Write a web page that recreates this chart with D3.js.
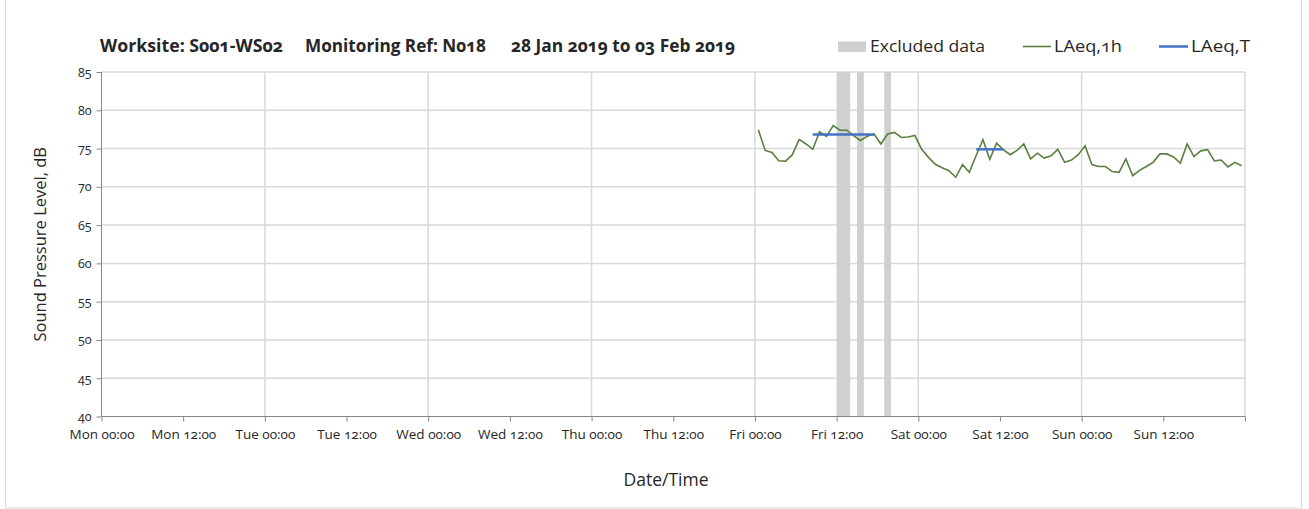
<!DOCTYPE html>
<html><head><meta charset="utf-8">
<script src="https://cdn.jsdelivr.net/npm/d3@7"></script>
<style>
body{margin:0;background:#fff;}
text{font-family:"Open Sans","Noto Sans",sans-serif;fill:#262626;font-variant-numeric:oldstyle-nums;}
</style></head>
<body><svg id="c" width="1309" height="509"></svg>
<script>
// ---- data ----
const dayLabels = ["Mon","Tue","Wed","Thu","Fri","Sat","Sun"];
const titleParts = ["Worksite: S001-WS02","Monitoring Ref: N018","28 Jan 2019 to 03 Feb 2019"];
const legendLabels = ["Excluded data","LAeq,1h","LAeq,T"];
const yTicks = [40,45,50,55,60,65,70,75,80,85];
// hourly LAeq,1h values (points at hh:30), Fri, Sat, Sun
const friValues = [77.45,74.75,74.5,73.4,73.35,74.2,76.2,75.6,74.9,77.2,76.6,78.0,77.4,77.4,76.7,76.05,76.6,76.9,75.6,76.9,77.1,76.45,76.5,76.7];
const satValues = [74.9,73.85,72.95,72.5,72.1,71.25,72.9,71.9,74.1,76.15,73.6,75.7,74.85,74.2,74.75,75.6,73.65,74.4,73.75,74.05,74.9,73.2,73.5,74.2];
const sunValues = [75.35,72.9,72.65,72.65,72.0,71.9,73.65,71.45,72.15,72.65,73.2,74.3,74.3,73.9,73.1,75.6,73.95,74.7,74.85,73.4,73.5,72.6,73.2,72.75];
// excluded periods, hours from Mon 00:00
const excludedStart = [108,111,115];
const excludedEnd   = [110,112,116];
// LAeq,T periods: start hour, end hour, value
const laeqTStart = [104.5,128.5];
const laeqTEnd   = [113.5,132.5];
const laeqTValue = [76.85,74.9];

// ---- build ----
const svg = d3.select("#c");
const x = d3.scaleLinear().domain([0,168]).range([101.5,1245]);
const y = d3.scaleLinear().domain([40,85]).range([416.5,72]);
const GREEN = "#5b7f3f", BLUE = "#4472c4", BAND = "#d0d0d0", GRID = "#d9d9d9", AX = "#868686";

// outer frame
svg.append("rect").attr("x",5.5).attr("y",-1).attr("width",1296).attr("height",509)
  .attr("fill","#fff").attr("stroke","#d9d9d9").attr("stroke-width",1);

const series = [];
[friValues,satValues,sunValues].forEach((arr,d)=>arr.forEach((v,h)=>series.push({t:96+24*d+h+0.5,v})));

// gridlines horizontal
svg.append("g").selectAll("line").data(yTicks.filter(t=>t>40)).join("line")
  .attr("x1",x(0)).attr("x2",x(168)).attr("y1",d=>y(d)).attr("y2",d=>y(d))
  .attr("stroke",GRID).attr("stroke-width",1.5);
// gridlines vertical (daily)
svg.append("g").selectAll("line").data(d3.range(24,169,24)).join("line")
  .attr("x1",d=>x(d)).attr("x2",d=>x(d)).attr("y1",y(40)).attr("y2",y(85))
  .attr("stroke",GRID).attr("stroke-width",1.5);

// excluded bands
svg.append("g").selectAll("rect").data(excludedStart.map((s,i)=>[s,excludedEnd[i]])).join("rect")
  .attr("x",d=>x(d[0])).attr("width",d=>x(d[1])-x(d[0]))
  .attr("y",y(85)).attr("height",y(40)-y(85)).attr("fill",BAND);

// axes
const xAxis = d3.axisBottom(x).tickValues(d3.range(0,169,12)).tickSize(5)
  .tickFormat(d=>d>=168?"":dayLabels[Math.floor(d/24)]+(d%24===0?" 00:00":" 12:00"));
const gx = svg.append("g").attr("transform",`translate(0,${y(40)})`).call(xAxis);
gx.selectAll("line").attr("stroke",AX);
gx.select(".domain").attr("stroke",AX).attr("d",`M${x(0)},0H${x(168)}`);
gx.selectAll("text").attr("dy","0.9em").attr("y",10).style("font-size","13.5px").attr("fill","#262626");

const yAxis = d3.axisLeft(y).tickValues(yTicks).tickSize(5).tickPadding(5);
const gy = svg.append("g").attr("transform",`translate(${x(0)},0)`).call(yAxis);
gy.selectAll("line").attr("stroke",AX);
gy.select(".domain").attr("stroke",AX).attr("d",`M0,${y(40)}V${y(85)}`);
gy.selectAll("text").style("font-size","12.5px").attr("fill","#262626");

// LAeq,1h line
svg.append("path").datum(series)
  .attr("d",d3.line().x(d=>x(d.t)).y(d=>y(d.v)))
  .attr("fill","none").attr("stroke",GREEN).attr("stroke-width",1.6);

// LAeq,T lines
svg.append("g").selectAll("line").data(laeqTStart.map((s,i)=>({s,e:laeqTEnd[i],v:laeqTValue[i]}))).join("line")
  .attr("x1",d=>x(d.s)).attr("x2",d=>x(d.e)).attr("y1",d=>y(d.v)).attr("y2",d=>y(d.v))
  .attr("stroke",BLUE).attr("stroke-width",2.5);

// title
const titleX = [100,305,511];
const titleW = [183,181,224];
svg.append("g").selectAll("text").data(titleParts).join("text")
  .attr("x",(d,i)=>titleX[i]).attr("y",52).text(d=>d)
  .attr("textLength",(d,i)=>titleW[i]).attr("lengthAdjust","spacingAndGlyphs")
  .style("font-size","17.5px").style("font-weight","bold");

// legend
svg.append("rect").attr("x",838).attr("y",41.5).attr("width",28).attr("height",10.5).attr("fill",BAND);
svg.append("line").attr("x1",1023).attr("x2",1051).attr("y1",46.5).attr("y2",46.5).attr("stroke",GREEN).attr("stroke-width",1.6);
svg.append("line").attr("x1",1159).attr("x2",1188).attr("y1",46.5).attr("y2",46.5).attr("stroke",BLUE).attr("stroke-width",2.5);
const legX = [870,1054,1191], legW = [115,68,59];
svg.append("g").selectAll("text").data(legendLabels).join("text")
  .attr("x",(d,i)=>legX[i]).attr("y",52).text(d=>d)
  .attr("textLength",(d,i)=>legW[i]).attr("lengthAdjust","spacingAndGlyphs")
  .style("font-size","17px");

// axis titles
svg.append("text").attr("transform",`translate(46,${(y(40)+y(85))/2}) rotate(-90)`)
  .attr("text-anchor","middle").text("Sound Pressure Level, dB").style("font-size","16.5px");
svg.append("text").attr("x",666).attr("y",486).attr("text-anchor","middle").text("Date/Time").style("font-size","17.5px");
</script></body></html>
